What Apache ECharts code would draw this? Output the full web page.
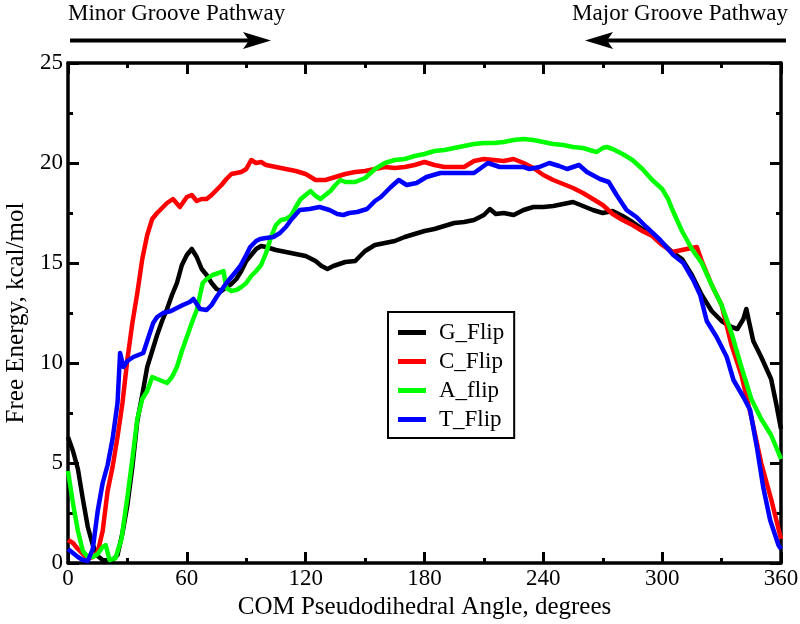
<!DOCTYPE html>
<html>
<head>
<meta charset="utf-8">
<script src="https://cdn.jsdelivr.net/npm/echarts@6/dist/echarts.min.js"></script>
<style>
html,body{margin:0;padding:0;background:#fff;}
#chart{width:800px;height:624px;}
</style>
</head>
<body>
<div id="chart"></div>
<script>
// Tick values
var xTicks = [0, 60, 120, 180, 240, 300, 360];
var yTicks = [0, 5, 10, 15, 20, 25];
var seriesNames = ['G_Flip', 'C_Flip', 'A_flip', 'T_Flip'];

// G_Flip (black): [angle, free energy]
var gFlip = [[0,6.3],[2.5,5.6],[5,4.7],[7.5,3.2],[10,1.8],[12.5,0.9],[15,0.35],[17.5,0.15],[20,0.12],[22.5,0.15],[25,0.4],[27.5,1.5],[30,2.9],[32.5,4.8],[35,7.1],[37.5,8.4],[40,9.8],[42.5,10.6],[45,11.4],[47.5,12.1],[50,12.7],[52.5,13.4],[55,14.0],[57.5,14.9],[60,15.4],[62.5,15.7],[65,15.3],[67.5,14.7],[70,14.4],[72.5,14.0],[75,13.7],[77.5,13.6],[80,13.8],[82.5,13.95],[85,14.2],[87.5,14.6],[90,15.1],[92.5,15.4],[95,15.7],[97.5,15.85],[100,15.8],[105,15.65],[110,15.55],[115,15.45],[120,15.35],[125,15.1],[128,14.85],[131,14.7],[134,14.85],[137,14.95],[140,15.05],[145,15.1],[150,15.6],[155,15.9],[160,16.0],[165,16.1],[170,16.3],[175,16.45],[180,16.6],[185,16.7],[190,16.85],[195,17.0],[200,17.05],[205,17.15],[210,17.4],[213,17.7],[216,17.45],[220,17.5],[225,17.4],[230,17.65],[235,17.8],[240,17.8],[245,17.85],[250,17.95],[255,18.05],[260,17.85],[265,17.65],[270,17.5],[275,17.6],[280,17.35],[285,17.05],[290,16.7],[295,16.4],[300,16.0],[305,15.55],[310,15.2],[315,14.4],[320,13.4],[325,12.6],[330,12.1],[335,11.8],[338,11.7],[341,12.2],[342.5,12.7],[344,12.0],[346,11.1],[350,10.3],[355,9.2],[357.5,8.0],[360,6.7]];

// C_Flip (red)
var cFlip = [[0,1.15],[2.5,1.0],[5,0.7],[7.5,0.45],[10,0.2],[12.5,0.3],[15,0.55],[17.5,1.6],[20,3.6],[22.5,4.8],[25,6.3],[27.5,8.0],[30,10.2],[32.5,12.0],[35,13.5],[37.5,15.2],[40,16.4],[42.5,17.2],[45,17.5],[47.5,17.75],[50,18.0],[53,18.2],[56.5,17.8],[60,18.3],[62.5,18.4],[65,18.1],[67.5,18.2],[70,18.2],[72.5,18.4],[75,18.65],[77.5,18.9],[80,19.2],[82.5,19.45],[85,19.5],[87.5,19.55],[90,19.7],[92.5,20.15],[95,20.0],[97.5,20.05],[100,19.9],[105,19.8],[110,19.7],[115,19.6],[120,19.45],[125,19.15],[130,19.15],[135,19.3],[140,19.45],[145,19.55],[150,19.6],[155,19.7],[160,19.8],[165,19.75],[170,19.8],[175,19.9],[180,20.05],[185,19.9],[190,19.8],[195,19.8],[200,19.8],[205,20.1],[210,20.2],[215,20.15],[220,20.1],[225,20.2],[230,20.0],[235,19.75],[240,19.4],[245,19.15],[250,18.95],[255,18.75],[260,18.5],[265,18.2],[270,17.9],[275,17.45],[280,17.15],[285,16.9],[290,16.6],[295,16.35],[300,15.9],[305,15.55],[310,15.65],[315,15.75],[317.5,15.8],[320,15.1],[325,13.9],[330,12.9],[335,10.9],[340,9.4],[345,7.3],[350,5.0],[355,3.2],[360,1.2]];

// A_flip (green)
var aFlip = [[0,4.6],[2.5,3.0],[5,1.6],[7.5,0.6],[10,0.3],[12.5,0.3],[15,0.45],[17.5,0.8],[19,0.9],[21,0.15],[24,0.25],[27,1.2],[30,3.3],[32.5,5.2],[35,7.2],[37.5,8.2],[40,8.6],[42.5,9.3],[45,9.2],[47.5,9.1],[50,9.0],[52.5,9.3],[55,9.8],[57.5,10.6],[60,11.3],[62.5,12.0],[65,12.65],[68,14.0],[70,14.2],[73,14.4],[76,14.5],[78.5,14.6],[80,13.75],[82.5,13.6],[85,13.65],[87.5,13.8],[90,14.0],[92.5,14.35],[95,14.6],[97.5,14.9],[100,15.5],[102.5,16.3],[105,16.9],[107.5,17.15],[110,17.2],[112.5,17.35],[115,17.8],[117.5,18.2],[120,18.4],[122.5,18.6],[125,18.35],[127.5,18.2],[130,18.4],[132.5,18.6],[135,18.9],[137.5,19.15],[140,19.05],[145,19.05],[150,19.25],[155,19.7],[160,20.0],[165,20.15],[170,20.2],[175,20.35],[180,20.45],[185,20.6],[190,20.65],[195,20.75],[200,20.85],[205,20.95],[210,21.0],[215,21.0],[220,21.05],[225,21.15],[230,21.2],[235,21.15],[240,21.05],[245,20.95],[250,20.9],[255,20.8],[260,20.75],[265,20.6],[267,20.55],[270,20.75],[272,20.8],[275,20.7],[280,20.45],[285,20.15],[290,19.7],[295,19.15],[300,18.7],[303,18.2],[305,17.7],[310,16.6],[315,15.7],[320,15.0],[325,13.9],[330,12.9],[335,11.5],[340,9.8],[345,8.2],[350,7.2],[355,6.4],[360,5.2]];

// T_Flip (blue)
var tFlip = [[0,0.7],[2.5,0.5],[5,0.3],[7.5,0.15],[10,0.1],[12.5,0.7],[15,2.6],[17.5,4.0],[20,4.9],[22.5,6.2],[25,8.0],[26.3,10.5],[28,9.8],[30,10.1],[33,10.3],[38,10.5],[40,11.1],[43,12.0],[45,12.3],[48,12.5],[52,12.6],[55,12.75],[58,12.9],[61.5,13.05],[63.3,13.2],[66.7,12.7],[70,12.65],[72.5,12.9],[75,13.3],[80,14.0],[85,14.6],[87,14.85],[90,15.4],[92,15.8],[95,16.1],[97,16.2],[100,16.25],[103.7,16.3],[107,16.5],[110,16.8],[113,17.2],[117,17.65],[122,17.7],[127,17.8],[132,17.65],[136,17.45],[139,17.4],[142,17.5],[146,17.55],[151,17.7],[155,18.1],[158,18.3],[163,18.8],[167,19.15],[171,18.9],[176,19.0],[181,19.3],[188,19.5],[196,19.5],[205,19.5],[212,20.0],[218,19.8],[222,19.8],[227,19.8],[230,19.8],[233,19.7],[238,19.8],[243,20.0],[248,19.85],[252,19.7],[258,19.9],[262,19.55],[268.6,19.2],[273,19.05],[277,18.4],[282,17.65],[287,17.3],[292,16.8],[299,16.15],[305.6,15.4],[310.7,15.0],[315.7,14.15],[319.2,13.4],[322.5,12.1],[327.5,11.3],[332.6,10.3],[336,9.15],[341,8.3],[344.4,7.65],[347.8,5.8],[351,3.8],[354.5,2.15],[358.7,0.9],[360,0.7]];

var colors = ['#000000', '#ff0000', '#00ff00', '#0000ff'];
var seriesData = [gFlip, cFlip, aFlip, tFlip];

var FONT = 'Liberation Serif';
var chart = echarts.init(document.getElementById('chart'), null, {renderer: 'canvas'});

function xAxisCfg(pos, showLabel) {
  return {
    type: 'value', position: pos, min: xTicks[0], max: xTicks[xTicks.length - 1],
    interval: xTicks[1] - xTicks[0],
    axisLine: {show: true, onZero: false, lineStyle: {color: '#000', width: 3.5}},
    axisTick: {show: true, inside: true, length: 11, lineStyle: {color: '#000', width: 3}},
    minorTick: {show: true, splitNumber: 2, length: 5, lineStyle: {color: '#000', width: 3}},
    splitLine: {show: false},
    axisLabel: {show: showLabel, color: '#000', fontSize: 23, fontFamily: FONT, margin: 4},
    name: showLabel ? 'COM Pseudodihedral Angle, degrees' : '',
    nameLocation: 'middle', nameGap: 31,
    nameTextStyle: {color: '#000', fontSize: 25, fontFamily: FONT}
  };
}
function yAxisCfg(pos, showLabel) {
  return {
    type: 'value', position: pos, min: yTicks[0], max: yTicks[yTicks.length - 1],
    interval: yTicks[1] - yTicks[0],
    axisLine: {show: true, onZero: false, lineStyle: {color: '#000', width: 3.5}},
    axisTick: {show: true, inside: true, length: 11, lineStyle: {color: '#000', width: 3}},
    minorTick: {show: true, splitNumber: 2, length: 5, lineStyle: {color: '#000', width: 3}},
    splitLine: {show: false},
    axisLabel: {show: showLabel, color: '#000', fontSize: 23, fontFamily: FONT, margin: 5},
    name: showLabel ? 'Free Energy, kcal/mol' : '',
    nameLocation: 'middle', nameGap: 37,
    nameTextStyle: {color: '#000', fontSize: 25, fontFamily: FONT}
  };
}

var series = seriesNames.map(function (n, i) {
  return {
    name: n, type: 'line', xAxisIndex: 0, yAxisIndex: 0,
    data: seriesData[i], showSymbol: false, symbol: 'none',
    lineStyle: {color: colors[i], width: 4.5, join: 'round'},
    itemStyle: {color: colors[i]},
    emphasis: {disabled: true}, animation: false
  };
});

var option = {
  backgroundColor: '#fff',
  animation: false,
  color: colors,
  grid: {left: 68, right: 19, top: 63, bottom: 61, containLabel: false, outerBoundsMode: 'none'},
  xAxis: [xAxisCfg('bottom', true), xAxisCfg('top', false)],
  yAxis: [yAxisCfg('left', true), yAxisCfg('right', false)],
  legend: {
    show: true, orient: 'vertical', left: 388, top: 312,
    data: seriesNames,
    icon: 'rect', itemWidth: 28, itemHeight: 5, itemGap: 6,
    borderColor: '#000', borderWidth: 2, padding: [9, 10, 7, 10],
    backgroundColor: '#fff',
    textStyle: {color: '#000', fontSize: 23, fontFamily: FONT, lineHeight: 23, padding: [0, 0, 0, 8]},
    selectedMode: false
  },
  graphic: [
    {type: 'text', left: 68, top: 2, style: {text: 'Minor Groove Pathway', fill: '#000', font: '23px "Liberation Serif"'}},
    {type: 'text', right: 12, top: 2, style: {text: 'Major Groove Pathway', fill: '#000', font: '23px "Liberation Serif"'}},
    {type: 'line', shape: {x1: 70, y1: 40.5, x2: 252, y2: 40.5}, style: {stroke: '#000', lineWidth: 4}},
    {type: 'polygon', shape: {points: [[243, 32], [271, 40.5], [243, 49], [249, 40.5]]}, style: {fill: '#000'}},
    {type: 'line', shape: {x1: 604, y1: 40.5, x2: 786, y2: 40.5}, style: {stroke: '#000', lineWidth: 4}},
    {type: 'polygon', shape: {points: [[613, 32], [585, 40.5], [613, 49], [607, 40.5]]}, style: {fill: '#000'}}
  ],
  series: series
};
chart.setOption(option);
</script>
</body>
</html>
